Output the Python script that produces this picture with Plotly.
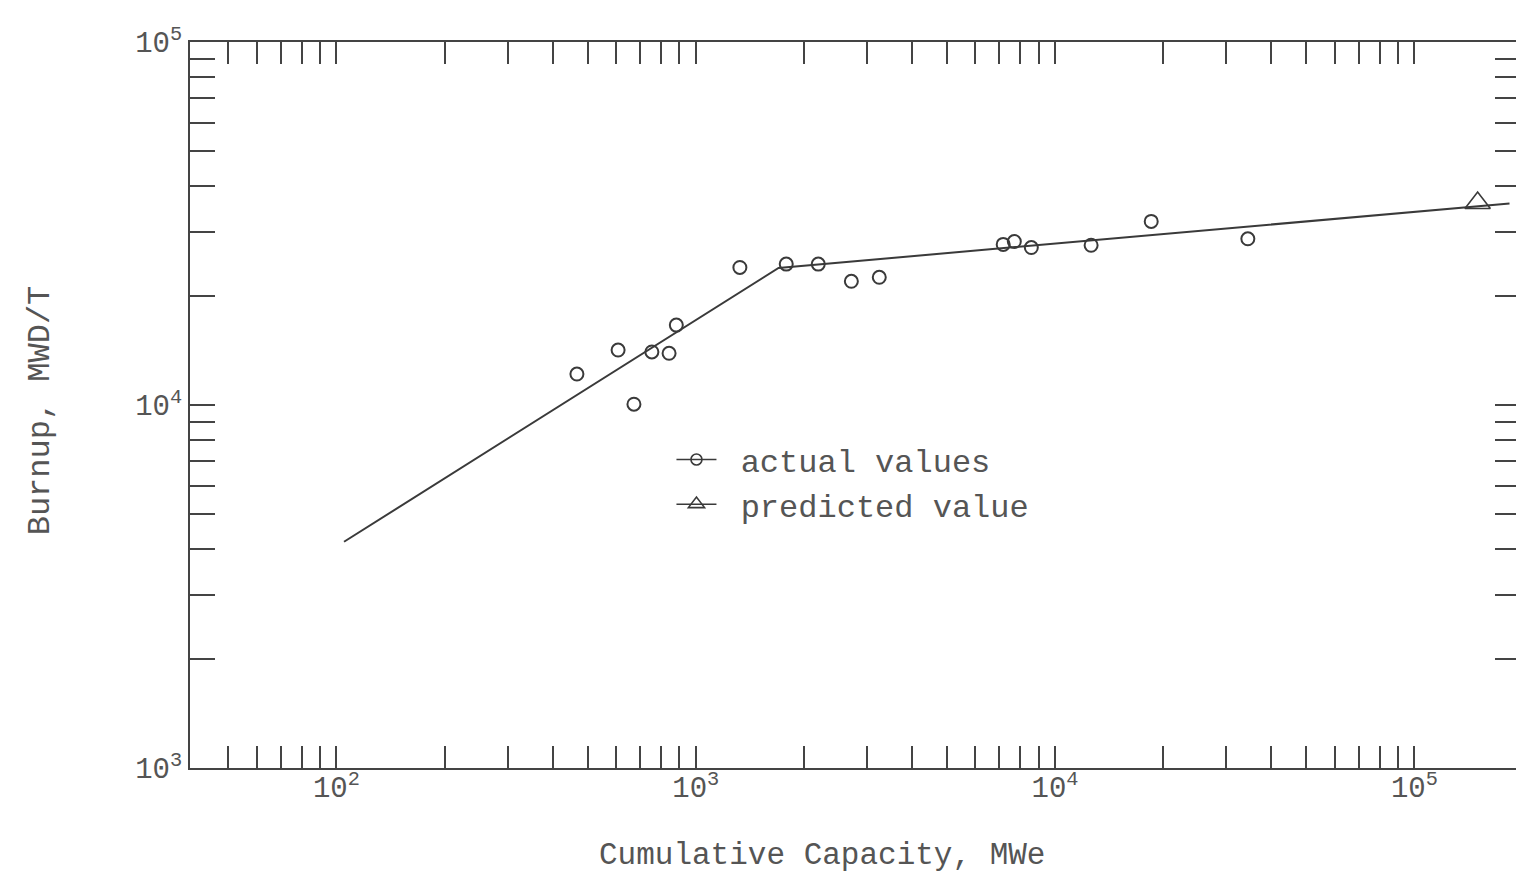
import plotly.graph_objects as go

# Actual values (cumulative capacity MWe, burnup MWD/T)
actual_capacity = [467, 608, 673, 755, 843, 883, 1327, 1786, 2193, 2711, 3242,
                   7173, 7703, 8590, 12600, 18520, 34400]
actual_burnup = [12170, 14170, 10050, 14000, 13880, 16600, 23930, 24440, 24440, 21920, 22480,
                 27700, 28200, 27150, 27550, 32050, 28700]

# Predicted value
predicted_capacity = [150000]
predicted_burnup = [36000]

# Fitted piecewise line
fit_capacity = [105, 1700, 184000]
fit_burnup = [4200, 23850, 35900]

# Axis ticks
x_major = [100, 1000, 10000, 100000]
x_major_text = ["10<sup>2</sup>", "10<sup>3</sup>", "10<sup>4</sup>", "10<sup>5</sup>"]
x_minor = [m * 10 ** e for e in range(1, 5) for m in range(2, 10) if m * 10 ** e >= 50]
y_major = [1000, 10000, 100000]
y_major_text = ["10<sup>3</sup>", "10<sup>4</sup>", "10<sup>5</sup>"]
y_minor = [m * 10 ** e for e in range(3, 5) for m in range(2, 10)]

INK = "#3a3a3a"
TXT = "#555555"
FONT = "Liberation Mono"

fig = go.Figure()

fig.add_trace(go.Scatter(x=fit_capacity, y=fit_burnup, mode="lines",
                         line=dict(color=INK, width=2), showlegend=False, hoverinfo="skip"))
fig.add_trace(go.Scatter(x=actual_capacity, y=actual_burnup, mode="markers",
                         marker=dict(symbol="circle-open", size=13, color=INK, line=dict(width=2)),
                         showlegend=False, name="actual values"))
fig.add_trace(go.Scatter(x=predicted_capacity, y=predicted_burnup, mode="markers",
                         marker=dict(symbol="triangle-up-open", size=22, color=INK, line=dict(width=1.6)),
                         showlegend=False, name="predicted value"))

# legend entries
fig.add_trace(go.Scatter(x=[None], y=[None], mode="lines+markers", name="\u00a0actual values",
                         line=dict(color=INK, width=1.5),
                         marker=dict(symbol="circle-open", size=11, color=INK, line=dict(width=1.6))))
fig.add_trace(go.Scatter(x=[None], y=[None], mode="lines+markers", name="\u00a0predicted value",
                         line=dict(color=INK, width=1.5),
                         marker=dict(symbol="triangle-up-open", size=14, color=INK, line=dict(width=1.6))))

axis_common = dict(
    showgrid=False, zeroline=False, showline=True, linecolor="#444", linewidth=2,
    mirror="allticks", ticks="inside", tickcolor="#444", tickwidth=2,
    tickfont=dict(family=FONT, size=29, color=TXT),
)

fig.update_xaxes(type="log", range=[1.5925, 5.294], tickmode="array",
                 tickvals=x_major, ticktext=x_major_text, ticklen=22,
                 minor=dict(tickmode="array", tickvals=x_minor, ticks="inside", ticklen=22,
                            tickwidth=2, tickcolor="#444", showgrid=False),
                 ticklabelstandoff=-8, **axis_common)
fig.update_yaxes(type="log", range=[3, 5], tickmode="array",
                 tickvals=y_major, ticktext=y_major_text, ticklen=25,
                 minor=dict(tickmode="array", tickvals=y_minor, ticks="inside", ticklen=25,
                            tickwidth=2, tickcolor="#444", showgrid=False),
                 **axis_common)

fig.update_layout(
    width=1516, height=868,
    margin=dict(l=182, r=2, t=34, b=108),
    paper_bgcolor="white", plot_bgcolor="white",
    font=dict(family=FONT, color=TXT),
    legend=dict(x=0.362, y=0.4625, xanchor="left", yanchor="top",
                bgcolor="rgba(0,0,0,0)", font=dict(family=FONT, size=32, color=TXT),
                itemwidth=40, tracegroupgap=6),
    annotations=[
        dict(text="Cumulative Capacity, MWe", xref="paper", yref="paper",
             x=0.475, y=-0.12, xanchor="center", yanchor="middle", showarrow=False,
             font=dict(family=FONT, size=31, color=TXT)),
        dict(text="Burnup, MWD/T", xref="paper", yref="paper",
             x=-0.1126, y=0.493, xanchor="center", yanchor="middle", showarrow=False,
             textangle=-90, font=dict(family=FONT, size=32, color=TXT)),
    ],
)

fig.write_html("out.html")
